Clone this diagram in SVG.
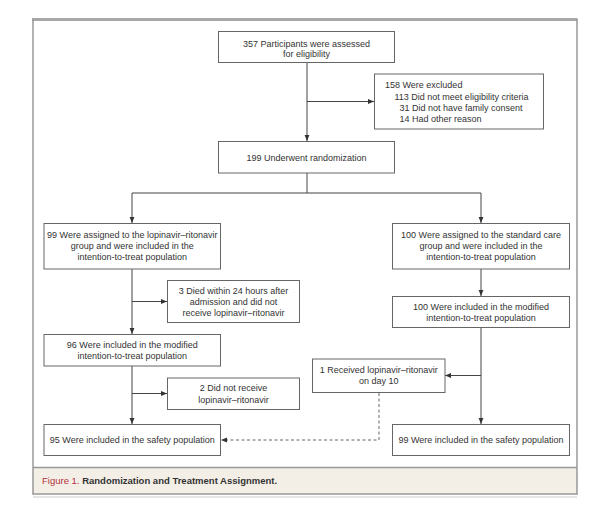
<svg xmlns="http://www.w3.org/2000/svg" width="600" height="507" viewBox="0 0 600 507">
<defs>
<marker id="ah" viewBox="0 0 10 10" refX="10" refY="5" markerWidth="6" markerHeight="6" markerUnits="userSpaceOnUse" orient="auto">
<path d="M0,1 L10,5 L0,9 Z" fill="#333"/>
</marker>
<style>
.box{fill:#fff;stroke:#666;stroke-width:1}
.t{font-family:"Liberation Sans",Arial,sans-serif;font-size:9px;fill:#333}
.c{text-anchor:middle}
.ln{fill:none;stroke:#444;stroke-width:1}
.dash{fill:none;stroke:#666;stroke-width:1;stroke-dasharray:3 2.5}
</style>
</defs>
<rect x="0" y="0" width="600" height="507" fill="#fff"/>
<g id="frame">
<rect x="33" y="467.5" width="544" height="26" fill="#f3efe7"/>
<line x1="33" y1="467.5" x2="577" y2="467.5" stroke="#999" stroke-width="1.5"/>
<line x1="32" y1="19.5" x2="577.5" y2="19.5" stroke="#a8a8a8" stroke-width="3"/>
<line x1="33" y1="19" x2="33" y2="494.5" stroke="#999" stroke-width="1.5"/>
<line x1="577" y1="19" x2="577" y2="494.5" stroke="#999" stroke-width="1.5"/>
<line x1="32.5" y1="494" x2="577.5" y2="494" stroke="#999" stroke-width="1.5"/>
<line x1="33" y1="497" x2="577" y2="497" stroke="#ccc" stroke-width="1"/>
<text class="t" x="42" y="483.5" style="font-size:9.5px"><tspan fill="#b3313b">Figure 1.</tspan><tspan font-weight="bold" fill="#333"> Randomization and Treatment Assignment.</tspan></text>
</g>
<g id="connectors">
<path class="ln" d="M307,62.5 V141" marker-end="url(#ah)"/>
<path class="ln" d="M307,101.5 H374" marker-end="url(#ah)"/>
<path class="ln" d="M307,173 V193 M132,193 H481"/>
<path class="ln" d="M132,193 V223" marker-end="url(#ah)"/>
<path class="ln" d="M481,193 V223" marker-end="url(#ah)"/>
<path class="ln" d="M132,269 V334" marker-end="url(#ah)"/>
<path class="ln" d="M132,301.5 H167" marker-end="url(#ah)"/>
<path class="ln" d="M132,366 V424" marker-end="url(#ah)"/>
<path class="ln" d="M132,393.5 H167" marker-end="url(#ah)"/>
<path class="ln" d="M481,269 V296" marker-end="url(#ah)"/>
<path class="ln" d="M481,327.5 V424" marker-end="url(#ah)"/>
<path class="ln" d="M481,375.5 H445" marker-end="url(#ah)"/>
<path class="dash" d="M379,393 V440 H222"/>
<path d="M221,440 L227,437.5 L227,442.5 Z" fill="#333"/>
</g>
<g id="n-assessed">
<rect class="box" x="218.5" y="31.5" width="176" height="31"/>
<text class="t c" x="306.5" y="46.5">357 Participants were assessed</text>
<text class="t c" x="306.5" y="57">for eligibility</text>
</g>
<g id="n-excluded">
<rect class="box" x="374.5" y="74" width="169" height="55"/>
<text class="t" x="385" y="88">158 Were excluded</text>
<text class="t" x="394.5" y="99.5">113 Did not meet eligibility criteria</text>
<text class="t" x="399.5" y="110.7">31 Did not have family consent</text>
<text class="t" x="399.5" y="121.7">14 Had other reason</text>
</g>
<g id="n-random">
<rect class="box" x="218.5" y="141.5" width="176" height="31.5"/>
<text class="t c" x="306.5" y="160.5">199 Underwent randomization</text>
</g>
<g id="n-lpv-itt">
<rect class="box" x="44" y="223.5" width="176.5" height="45.5"/>
<text class="t c" x="132.3" y="238">99 Were assigned to the lopinavir–ritonavir</text>
<text class="t c" x="132.3" y="249">group and were included in the</text>
<text class="t c" x="132.3" y="260.3">intention-to-treat population</text>
</g>
<g id="n-std-itt">
<rect class="box" x="392.5" y="223.5" width="177" height="45.5"/>
<text class="t c" x="481" y="238">100 Were assigned to the standard care</text>
<text class="t c" x="481" y="249">group and were included in the</text>
<text class="t c" x="481" y="260.3">intention-to-treat population</text>
</g>
<g id="n-died">
<rect class="box" x="167.5" y="280.5" width="132" height="42"/>
<text class="t c" x="233.5" y="293.5">3 Died within 24 hours after</text>
<text class="t c" x="233.5" y="304.7">admission and did not</text>
<text class="t c" x="233.5" y="316">receive lopinavir–ritonavir</text>
</g>
<g id="n-lpv-mitt">
<rect class="box" x="44" y="334.5" width="176.5" height="31.5"/>
<text class="t c" x="132.3" y="348">96 Were included in the modified</text>
<text class="t c" x="132.3" y="359">intention-to-treat population</text>
</g>
<g id="n-std-mitt">
<rect class="box" x="392.5" y="296.5" width="177" height="31"/>
<text class="t c" x="481" y="309.7">100 Were included in the modified</text>
<text class="t c" x="481" y="320.7">intention-to-treat population</text>
</g>
<g id="n-notreceive">
<rect class="box" x="167.5" y="378" width="132" height="31.5"/>
<text class="t c" x="233.5" y="391">2 Did not receive</text>
<text class="t c" x="233.5" y="403">lopinavir–ritonavir</text>
</g>
<g id="n-received">
<rect class="box" x="312.5" y="359" width="132.5" height="33.5"/>
<text class="t c" x="378.7" y="373">1 Received lopinavir–ritonavir</text>
<text class="t c" x="378.7" y="384.3">on day 10</text>
</g>
<g id="n-lpv-safety">
<rect class="box" x="44" y="424.5" width="176.5" height="31"/>
<text class="t c" x="132.3" y="443">95 Were included in the safety population</text>
</g>
<g id="n-std-safety">
<rect class="box" x="392.5" y="424.5" width="177" height="31"/>
<text class="t c" x="481" y="443">99 Were included in the safety population</text>
</g>
</svg>
